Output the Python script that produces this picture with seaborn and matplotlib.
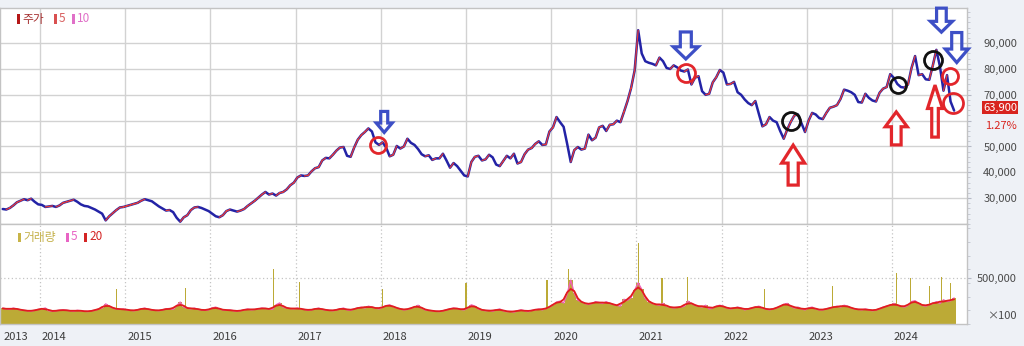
import numpy as np
import pandas as pd
import matplotlib
matplotlib.use("Agg")
import matplotlib.pyplot as plt
import matplotlib.transforms as mtransforms
from matplotlib.patches import Polygon, Rectangle
from matplotlib.ticker import MultipleLocator, FuncFormatter, FixedFormatter
import seaborn as sns

# ---------------- data (two closes per month, from 2nd half of Jul 2013) ----------------
p2013 = [25800, 25600, 26200, 27200, 28400, 29000, 29600, 29200, 29800, 28600, 27600]
p2014 = [27400, 26600, 26800, 27000, 26600, 27200, 28200, 28600, 29000, 29400, 28600, 27600,
         27000, 26800, 26200, 25600, 24800, 24000, 21400, 23000, 24200, 25400, 26400, 26600]
p2015 = [27000, 27400, 27800, 28200, 29000, 29600, 29200, 28800, 27800, 26800, 26000, 25200,
         25400, 24600, 22400, 20900, 22600, 23400, 25400, 26400, 26600, 26200, 25600, 25000]
p2016 = [24000, 23000, 22600, 23400, 25000, 25600, 25200, 24800, 25200, 25800, 27000, 28000,
         29000, 30200, 31400, 32400, 31400, 31800, 31000, 32000, 32400, 33400, 35000, 36000]
p2017 = [38000, 38800, 38600, 38800, 40400, 41600, 42000, 44600, 45600, 45400, 46800, 48400,
         49600, 49800, 46400, 46000, 49600, 52600, 54400, 55600, 57000, 55800, 51600, 50600]
p2018 = [51600, 49600, 46200, 46800, 50200, 49200, 50000, 53000, 51400, 50600, 49000, 47000,
         46200, 46600, 44800, 45400, 45400, 47200, 44600, 41800, 43600, 42400, 40600, 38800]
p2019 = [38400, 44000, 46000, 46400, 44600, 45000, 46800, 45800, 43000, 42400, 44400, 46400,
         45400, 47200, 43400, 44000, 47000, 48800, 49400, 51000, 52000, 50600, 50800, 55800]
p2020 = [57400, 61400, 59400, 57600, 51000, 44000, 48600, 49800, 48800, 49200, 54600, 52400,
         53400, 57400, 58000, 56000, 58400, 58600, 60000, 59400, 63400, 67600, 72600, 79400]
p2021 = [95000, 86000, 83000, 82400, 82000, 81400, 84400, 83000, 80400, 80000, 81400, 80600,
         79400, 79000, 79800, 74000, 76600, 77200, 71400, 70000, 70400, 74800, 76800, 79600]
p2022 = [78600, 74000, 74200, 75000, 71000, 70000, 68200, 66800, 66000, 67600, 62600, 57800,
         58600, 61400, 60000, 59400, 56000, 53000, 56600, 59600, 62000, 62400, 59000, 55600]
p2023 = [60000, 63000, 62400, 61000, 60600, 63000, 65000, 65400, 66000, 68400, 72000, 71600,
         71000, 70000, 67200, 67000, 70400, 68800, 67800, 67400, 70800, 72400, 73000, 78000]
p2024 = [76600, 74200, 73000, 72800, 74000, 80400, 85000, 77600, 78000, 76000, 75800, 81400,
         87400, 81000, 71600, 77600, 67400, 63900]

# volume, units of 100 shares, in thousands (half-month levels)
v2013 = [175, 165, 160, 175, 165, 155, 150, 145, 140, 150, 160]
v2014 = [165, 175, 145, 140, 145, 150, 155, 150, 145, 140, 150, 145,
         140, 135, 145, 150, 165, 175, 220, 195, 175, 165, 160, 165]
v2015 = [155, 150, 145, 155, 165, 175, 160, 155, 150, 145, 155, 165,
         170, 160, 200, 240, 185, 175, 165, 175, 160, 155, 150, 155]
v2016 = [175, 185, 165, 155, 150, 155, 145, 140, 145, 155, 165, 155,
         160, 165, 175, 170, 165, 160, 210, 230, 185, 175, 170, 165]
v2017 = [175, 165, 160, 150, 155, 165, 175, 160, 155, 150, 145, 155,
         165, 175, 155, 150, 165, 175, 185, 175, 195, 185, 175, 165]
v2018 = [185, 200, 210, 190, 175, 165, 155, 160, 175, 185, 205, 175,
         155, 150, 145, 140, 135, 145, 155, 165, 175, 170, 160, 155]
v2019 = [175, 210, 195, 165, 155, 145, 150, 140, 155, 165, 145, 135,
         140, 130, 145, 155, 145, 135, 150, 155, 165, 155, 170, 185]
v2020 = [210, 240, 250, 230, 330, 480, 340, 260, 245, 225, 215, 225,
         245, 235, 225, 245, 225, 215, 205, 195, 270, 260, 290, 370]
v2021 = [450, 380, 280, 245, 225, 215, 205, 225, 195, 185, 175, 185,
         185, 195, 250, 225, 205, 195, 185, 205, 165, 175, 195, 205]
v2022 = [195, 175, 165, 175, 185, 175, 155, 165, 175, 185, 195, 175,
         165, 155, 165, 175, 195, 215, 225, 195, 175, 185, 165, 155]
v2023 = [175, 185, 165, 155, 155, 165, 175, 185, 195, 185, 205, 195,
         175, 165, 160, 155, 165, 155, 145, 155, 165, 185, 195, 205]
v2024 = [225, 205, 195, 185, 205, 245, 255, 225, 205, 195, 215, 225,
         245, 225, 265, 245, 255, 285]

# single-day volume spikes (date as year fraction, volume x100 shares)
spike_x = [2014.90, 2015.71, 2016.74, 2017.05, 2018.02, 2019.00, 2019.95, 2020.20,
           2021.02, 2021.30, 2021.60, 2022.50, 2023.30, 2024.05, 2024.22, 2024.44,
           2024.58, 2024.69]
spike_v = [380000, 390000, 600000, 460000, 380000, 450000, 480000, 600000,
           890000, 500000, 520000, 380000, 420000, 555000, 500000, 420000,
           520000, 450000]

year_ticks = [2014, 2015, 2016, 2017, 2018, 2019, 2020, 2021, 2022, 2023, 2024]
price_ticks = [30000, 40000, 50000, 60000, 70000, 80000, 90000]
price_tick_labels = ["30,000", "40,000", "50,000", "", "70,000", "80,000", "90,000"]
last_price_value = 63900
last_price = "63,900"
last_change = "1.27%"

# hand-drawn annotations (date, price)
down_arrow_x = [2018.04, 2021.58, 2024.58, 2024.76]
down_arrow_y = [59500, 89100, 98900, 88300]
down_arrow_wh = [(16, 21), (25, 27), (22, 24), (23, 30)]
up_arrow_x = [2022.84, 2024.05, 2024.505]
up_arrow_y = [42800, 57000, 63700]
up_arrow_wh = [(23, 40), (22, 33), (15, 52)]
red_circle_x = [2017.97, 2021.58, 2024.68, 2024.72]
red_circle_y = [50600, 78500, 77300, 66800]
red_circle_r = [8, 9, 8, 10]
black_circle_x = [2022.815, 2024.07, 2024.48]
black_circle_y = [59900, 73800, 83500]
black_circle_r = [9, 8, 9]

# ---------------- build series ----------------
price = np.array(p2013 + p2014 + p2015 + p2016 + p2017 + p2018 + p2019 + p2020 +
                 p2021 + p2022 + p2023 + p2024, dtype=float)
volume = np.array(v2013 + v2014 + v2015 + v2016 + v2017 + v2018 + v2019 + v2020 +
                  v2021 + v2022 + v2023 + v2024, dtype=float) * 1000
half_idx = np.arange(13, 13 + len(price))          # half-month index from Jan 2013
xs = 2013 + (half_idx + 0.5) / 24.0
df = pd.DataFrame({"x": xs, "price": price, "vol": volume})
df["vol_ma20"] = df["vol"].rolling(3, center=True, min_periods=1).mean()

# ---------------- figure ----------------
sns.set_style("white")
plt.rcParams["font.family"] = ["Noto Sans CJK KR", "DejaVu Sans"]
W, H = 1024, 346
fig = plt.figure(figsize=(W / 100, H / 100), dpi=100, facecolor="#eef1f6")
ax_right = 967
top_px, mid_px, bot_px = 8, 224, 324
ax1 = fig.add_axes([0, 1 - mid_px / H, ax_right / W, (mid_px - top_px) / H])
ax2 = fig.add_axes([0, 1 - bot_px / H, ax_right / W, (bot_px - mid_px) / H], sharex=ax1)
for a in (ax1, ax2):
    a.set_facecolor("white")
    a.set_axisbelow(True)
    for s in a.spines.values():
        s.set_color("#c3c3c3")
        s.set_linewidth(1)

px_per_year = 85.2
x0 = 2014 - 40 / px_per_year
x1 = x0 + ax_right / px_per_year
ax1.set_xlim(x0, x1)
ax1.set_ylim(20000, 103600)
ax2.set_ylim(0, 1095000)

# ---------------- price ----------------
blue = "#2323a6"
red = "#e23a3a"
sns.lineplot(data=df, x="x", y="price", ax=ax1, color=blue, lw=1.8, zorder=3)
ux, uy = [], []
for i in range(len(price) - 1):
    if price[i + 1] > price[i]:
        ux += [xs[i], xs[i + 1], np.nan]
        uy += [price[i], price[i + 1], np.nan]
ax1.plot(ux, uy, color=red, lw=0.9, zorder=4)

ax1.set_xticks(year_ticks)
ax1.set_yticks(price_ticks)
ax1.yaxis.set_major_formatter(FixedFormatter(price_tick_labels))
ax1.yaxis.set_minor_locator(MultipleLocator(2000))
ax1.yaxis.tick_right()
ax1.tick_params(axis="x", which="both", length=0, labelbottom=False)
ax1.tick_params(axis="y", which="major", length=3, color="#b5b9c5", pad=33,
                labelsize=8, labelcolor="#4a4a4a")
ax1.tick_params(axis="y", which="minor", length=2, color="#c0c4ce")
for lab in ax1.get_yticklabels():
    lab.set_horizontalalignment("right")
ax1.grid(True, which="major", color="#d2d2d2", lw=1)
ax1.set_xlabel("")
ax1.set_ylabel("")

# last price box
btrans = mtransforms.blended_transform_factory(ax1.transAxes, ax1.transData)
ax1.text(1017 / ax_right, last_price_value, last_price,
         transform=mtransforms.offset_copy(btrans, fig=fig, y=3, units="dots"),
         ha="right", va="center", fontsize=8, color="white", clip_on=False,
         bbox=dict(boxstyle="square,pad=0.12", fc="#d8241e", ec="none"))
ax1.text(1017 / ax_right, last_price_value, last_change,
         transform=mtransforms.offset_copy(btrans, fig=fig, y=-15, units="dots"),
         ha="right", va="center", fontsize=8, color="#d8241e", clip_on=False)

# ---------------- volume ----------------
olive = "#bcaa36"
ax2.bar(df["x"], df["vol"], width=1 / 24 + 0.003, color=olive, lw=0, zorder=2,
        antialiased=False)
ax2.bar(spike_x, spike_v, width=0.014, color=olive, lw=0, zorder=2)
sns.lineplot(data=df, x="x", y="vol", ax=ax2, color="#f062b8", lw=1.0, zorder=3)
sns.lineplot(data=df, x="x", y="vol_ma20", ax=ax2, color="#e01e1e", lw=1.3, zorder=4)

ax2.set_xticks(year_ticks)
ax2.set_xticklabels([str(y) for y in year_ticks])
ax2.set_xticks([xs[0] - 0.01], minor=True)
ax2.set_xticklabels(["2013"], minor=True)
ax2.set_yticks([500000])
ax2.yaxis.set_minor_locator(MultipleLocator(150000))
ax2.yaxis.tick_right()
ax2.yaxis.set_major_formatter(FuncFormatter(lambda v, p: f"{int(v):,}"))
ax2.tick_params(axis="y", which="major", length=3, color="#b5b9c5", pad=33,
                labelsize=8, labelcolor="#4a4a4a")
ax2.tick_params(axis="y", which="minor", length=2, color="#c0c4ce")
for lab in ax2.get_yticklabels():
    lab.set_horizontalalignment("right")
ax2.tick_params(axis="x", which="both", length=7, color="#b0b0b0", pad=-1,
                labelsize=8, labelcolor="#3c3c3c", direction="out")
shift = mtransforms.ScaledTranslation(2 / 100, 0, fig.dpi_scale_trans)
for lab in ax2.get_xticklabels() + ax2.get_xticklabels(minor=True):
    lab.set_horizontalalignment("left")
    lab.set_transform(lab.get_transform() + shift)
ax2.grid(True, which="major", color="#c4c4c4", lw=0.9, ls=(0, (1, 2)))
ax2.set_xlabel("")
ax2.set_ylabel("")
ax2.text(1017 / ax_right, 0.08, "×100", transform=ax2.transAxes, ha="right",
         va="center", fontsize=8, color="#4a4a4a", clip_on=False)

# ---------------- legends ----------------
def fx(px):
    return px / W


def fy(py):
    return 1 - py / H


def legend_item(xp, yp, color, text, tcolor):
    fig.patches.append(Rectangle((fx(xp), fy(yp + 4.5)), 3 / W, 9 / H, transform=fig.transFigure,
                                 facecolor=color, edgecolor="none", figure=fig))
    fig.text(fx(xp + 5), fy(yp), text, color=tcolor, fontsize=8.5, va="center", ha="left")


legend_item(17, 19, "#b51818", "주가", "#a53030")
legend_item(54, 19, "#d95050", "5", "#d86060")
legend_item(72, 19, "#e070c8", "10", "#e070c8")
legend_item(18, 237, "#c8b448", "거래량", "#c4b048")
legend_item(66, 237, "#e864c4", "5", "#e864c4")
legend_item(84, 237, "#d42424", "20", "#d42424")

# ---------------- annotations ----------------
def block_arrow(ax, x, y, w, h, color, down=True):
    sw = 0.44 * w
    hl = 0.45 * h
    pts = [(-sw / 2, h / 2), (sw / 2, h / 2), (sw / 2, -h / 2 + hl), (w / 2, -h / 2 + hl),
           (0, -h / 2), (-w / 2, -h / 2 + hl), (-sw / 2, -h / 2 + hl)]
    if not down:
        pts = [(a, -b) for a, b in pts]
    tr = mtransforms.Affine2D() + mtransforms.ScaledTranslation(x, y, ax.transData)
    ax.add_patch(Polygon(pts, closed=True, facecolor="none", edgecolor=color, lw=2.3,
                         transform=tr, clip_on=False, zorder=10, joinstyle="miter"))


for x, y, (w, h) in zip(down_arrow_x, down_arrow_y, down_arrow_wh):
    block_arrow(ax1, x, y, w, h, "#3d4fc6", down=True)
for x, y, (w, h) in zip(up_arrow_x, up_arrow_y, up_arrow_wh):
    block_arrow(ax1, x, y, w, h, "#e2262b", down=False)
for x, y, r in zip(red_circle_x, red_circle_y, red_circle_r):
    ax1.plot([x], [y], "o", ms=r * 2 * 0.72, mfc="none", mec="#e2262b", mew=2.0, zorder=11)
for x, y, r in zip(black_circle_x, black_circle_y, black_circle_r):
    ax1.plot([x], [y], "o", ms=r * 2 * 0.72, mfc="none", mec="#111111", mew=2.0, zorder=11)

fig.savefig("out.png", dpi=100, facecolor=fig.get_facecolor())
